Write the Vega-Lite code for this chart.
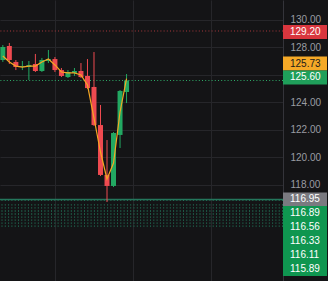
{
  "$schema": "https://vega.github.io/schema/vega-lite/v6.json",
  "width": 283,
  "height": 281,
  "autosize": {"type": "none"},
  "padding": {"left": 0, "top": 0, "right": 45, "bottom": 0},
  "background": "#141416",
  "config": {"view": {"stroke": null}},
  "datasets": {
    "candles": [
      {"i": -1, "open": 127.09, "high": 128.18, "low": 126.95, "close": 128.04},
      {"i": 0, "open": 128.11, "high": 128.33, "low": 126.80, "close": 127.09},
      {"i": 1, "open": 126.95, "high": 127.09, "low": 126.36, "close": 126.58},
      {"i": 2, "open": 126.58, "high": 127.02, "low": 126.36, "close": 126.65},
      {"i": 3, "open": 126.58, "high": 127.02, "low": 125.64, "close": 126.73},
      {"i": 4, "open": 126.80, "high": 127.53, "low": 126.22, "close": 126.29},
      {"i": 5, "open": 126.29, "high": 127.24, "low": 126.22, "close": 127.09},
      {"i": 6, "open": 127.02, "high": 127.82, "low": 126.87, "close": 127.16},
      {"i": 7, "open": 127.16, "high": 127.31, "low": 126.22, "close": 126.36},
      {"i": 8, "open": 126.36, "high": 126.51, "low": 125.85, "close": 125.93},
      {"i": 9, "open": 125.85, "high": 126.36, "low": 125.78, "close": 126.22},
      {"i": 10, "open": 126.15, "high": 126.51, "low": 125.93, "close": 126.29},
      {"i": 11, "open": 126.29, "high": 126.87, "low": 125.78, "close": 125.85},
      {"i": 12, "open": 125.93, "high": 127.16, "low": 124.98, "close": 125.05},
      {"i": 13, "open": 125.13, "high": 127.67, "low": 122.29, "close": 122.36},
      {"i": 14, "open": 122.36, "high": 123.82, "low": 118.65, "close": 118.73},
      {"i": 15, "open": 118.73, "high": 121.27, "low": 116.76, "close": 117.93},
      {"i": 16, "open": 117.93, "high": 121.85, "low": 117.85, "close": 121.78},
      {"i": 17, "open": 121.64, "high": 124.91, "low": 120.69, "close": 124.84},
      {"i": 18, "open": 124.76, "high": 126.07, "low": 123.96, "close": 125.60}
    ],
    "ma": [
      {"i": -1, "ma": 127.38}, {"i": 0, "ma": 126.95}, {"i": 1, "ma": 126.65},
      {"i": 2, "ma": 126.58}, {"i": 3, "ma": 126.65}, {"i": 4, "ma": 126.65},
      {"i": 5, "ma": 126.95}, {"i": 6, "ma": 127.16}, {"i": 7, "ma": 126.73},
      {"i": 8, "ma": 126.22}, {"i": 9, "ma": 126.15}, {"i": 10, "ma": 126.15},
      {"i": 11, "ma": 126.00}, {"i": 12, "ma": 125.27}, {"i": 13, "ma": 122.87},
      {"i": 14, "ma": 120.40}, {"i": 15, "ma": 118.44}, {"i": 16, "ma": 119.60},
      {"i": 17, "ma": 123.31}, {"i": 18, "ma": 125.73}
    ],
    "band": [
      {"price": 116.89}, {"price": 116.56}, {"price": 116.33}, {"price": 116.11},
      {"price": 115.89}, {"price": 115.67}, {"price": 115.45}, {"price": 115.23},
      {"price": 115.01}
    ],
    "tags": [
      {"price": 129.20, "label": "129.20"},
      {"price": 125.73, "label": "125.73"},
      {"price": 125.60, "label": "125.60"},
      {"price": 116.95, "label": "116.95"},
      {"price": 116.89, "label": "116.89"},
      {"price": 116.56, "label": "116.56"},
      {"price": 116.33, "label": "116.33"},
      {"price": 116.11, "label": "116.11"},
      {"price": 115.89, "label": "115.89"}
    ]
  },
  "layer": [
    {
      "data": {"name": "candles"},
      "mark": {"type": "rule", "strokeWidth": 1, "opacity": 0},
      "encoding": {
        "x": {"field": "i", "type": "quantitative",
              "scale": {"domain": [-0.667, 41.26], "nice": false, "zero": false},
              "axis": {"values": [7, 19, 31], "labels": false, "ticks": false, "domain": false, "title": null, "grid": true, "gridColor": "#26262a", "gridWidth": 1}},
        "y": {"field": "low", "type": "quantitative",
              "scale": {"domain": [111.018, 131.4545], "nice": false, "zero": false},
              "axis": {"orient": "right", "values": [118, 120, 122, 124, 126, 128, 130], "format": ".2f", "labelExpr": "datum.value == 126 ? '' : datum.label", "title": null, "grid": true, "gridColor": "#26262a", "ticks": false, "domain": true, "domainColor": "#34343a", "labelColor": "#9a9ca3", "labelFont": "Liberation Sans", "labelFontSize": 10, "labelPadding": 7, "labelBaseline": "middle"}},
        "y2": {"field": "high"}
      }
    },
    {
      "data": {"name": "band"},
      "mark": {"type": "rule", "color": "#217055", "strokeWidth": 1.3, "strokeDash": [1, 2.3]},
      "encoding": {"y": {"field": "price", "type": "quantitative"}}
    },
    {
      "data": {"name": "tags"},
      "transform": [{"filter": "datum.label == '116.95'"}],
      "mark": {"type": "rule", "color": "#24765c", "strokeWidth": 1.6},
      "encoding": {"y": {"field": "price", "type": "quantitative"}}
    },
    {
      "data": {"name": "tags"},
      "transform": [{"filter": "datum.label == '129.20'"}],
      "mark": {"type": "rule", "color": "#a8383c", "strokeWidth": 1, "strokeDash": [1, 2.2]},
      "encoding": {"y": {"field": "price", "type": "quantitative"}}
    },
    {
      "data": {"name": "tags"},
      "transform": [{"filter": "datum.label == '125.60'"}],
      "mark": {"type": "rule", "color": "#2fae6a", "strokeWidth": 1, "strokeDash": [1, 2.2]},
      "encoding": {"y": {"field": "price", "type": "quantitative"}}
    },
    {
      "data": {"name": "candles"},
      "mark": {"type": "rule", "strokeWidth": 1},
      "encoding": {
        "x": {"field": "i", "type": "quantitative"},
        "y": {"field": "low", "type": "quantitative"},
        "y2": {"field": "high"},
        "color": {"condition": {"test": "datum.close < datum.open", "value": "#ef4a50"}, "value": "#22a862"}
      }
    },
    {
      "data": {"name": "candles"},
      "mark": {"type": "bar", "size": 5},
      "encoding": {
        "x": {"field": "i", "type": "quantitative"},
        "y": {"field": "open", "type": "quantitative"},
        "y2": {"field": "close"},
        "color": {"condition": {"test": "datum.close < datum.open", "value": "#ef4a50"}, "value": "#22a862"}
      }
    },
    {
      "data": {"name": "ma"},
      "mark": {"type": "line", "color": "#f5a623", "strokeWidth": 1.2},
      "encoding": {
        "x": {"field": "i", "type": "quantitative"},
        "y": {"field": "ma", "type": "quantitative"}
      }
    },
    {
      "data": {"name": "tags"},
      "transform": [{"filter": "datum.label == '129.20'"}],
      "layer": [
        {"mark": {"type": "rect", "color": "#d9363e", "yOffset": -6, "y2Offset": 8, "x2Offset": 44},
         "encoding": {"x": {"value": "width"}, "x2": {"value": "width"}, "y": {"field": "price", "type": "quantitative"}, "y2": {"field": "price"}}},
        {"mark": {"type": "text", "align": "left", "baseline": "middle", "dx": 7, "yOffset": 1, "color": "#ffffff", "font": "Liberation Sans", "fontSize": 10},
         "encoding": {"x": {"value": "width"}, "y": {"field": "price", "type": "quantitative"}, "text": {"field": "label"}}}
      ]
    },
    {
      "data": {"name": "tags"},
      "transform": [{"filter": "datum.label == '125.73'"}],
      "layer": [
        {"mark": {"type": "rect", "color": "#f5a927", "yOffset": -22.2, "y2Offset": -8.2, "x2Offset": 44},
         "encoding": {"x": {"value": "width"}, "x2": {"value": "width"}, "y": {"field": "price", "type": "quantitative"}, "y2": {"field": "price"}}},
        {"mark": {"type": "text", "align": "left", "baseline": "middle", "dx": 7, "yOffset": -15.2, "color": "#1a1a1a", "font": "Liberation Sans", "fontSize": 10},
         "encoding": {"x": {"value": "width"}, "y": {"field": "price", "type": "quantitative"}, "text": {"field": "label"}}}
      ]
    },
    {
      "data": {"name": "tags"},
      "transform": [{"filter": "datum.label == '125.60'"}],
      "layer": [
        {"mark": {"type": "rect", "color": "#1f9f5a", "yOffset": -10, "y2Offset": 4, "x2Offset": 44},
         "encoding": {"x": {"value": "width"}, "x2": {"value": "width"}, "y": {"field": "price", "type": "quantitative"}, "y2": {"field": "price"}}},
        {"mark": {"type": "text", "align": "left", "baseline": "middle", "dx": 7, "yOffset": -3, "color": "#ffffff", "font": "Liberation Sans", "fontSize": 10},
         "encoding": {"x": {"value": "width"}, "y": {"field": "price", "type": "quantitative"}, "text": {"field": "label"}}}
      ]
    },
    {
      "data": {"name": "tags"},
      "transform": [{"filter": "datum.label == '116.95'"}],
      "layer": [
        {"mark": {"type": "rect", "color": "#7a7a80", "yOffset": -7, "y2Offset": 7, "x2Offset": 44},
         "encoding": {"x": {"value": "width"}, "x2": {"value": "width"}, "y": {"field": "price", "type": "quantitative"}, "y2": {"field": "price"}}},
        {"mark": {"type": "text", "align": "left", "baseline": "middle", "dx": 7, "yOffset": 0, "color": "#ffffff", "font": "Liberation Sans", "fontSize": 10},
         "encoding": {"x": {"value": "width"}, "y": {"field": "price", "type": "quantitative"}, "text": {"field": "label"}}}
      ]
    },
    {
      "data": {"name": "tags"},
      "transform": [{"filter": "datum.label == '116.89'"}],
      "layer": [
        {"mark": {"type": "rect", "color": "#0f9650", "yOffset": 5.7, "y2Offset": 19.7, "x2Offset": 44},
         "encoding": {"x": {"value": "width"}, "x2": {"value": "width"}, "y": {"field": "price", "type": "quantitative"}, "y2": {"field": "price"}}},
        {"mark": {"type": "text", "align": "left", "baseline": "middle", "dx": 7, "yOffset": 12.7, "color": "#ffffff", "font": "Liberation Sans", "fontSize": 10},
         "encoding": {"x": {"value": "width"}, "y": {"field": "price", "type": "quantitative"}, "text": {"field": "label"}}}
      ]
    },
    {
      "data": {"name": "tags"},
      "transform": [{"filter": "datum.label == '116.56'"}],
      "layer": [
        {"mark": {"type": "rect", "color": "#0f9650", "yOffset": 15.2, "y2Offset": 29.2, "x2Offset": 44},
         "encoding": {"x": {"value": "width"}, "x2": {"value": "width"}, "y": {"field": "price", "type": "quantitative"}, "y2": {"field": "price"}}},
        {"mark": {"type": "text", "align": "left", "baseline": "middle", "dx": 7, "yOffset": 22.2, "color": "#ffffff", "font": "Liberation Sans", "fontSize": 10},
         "encoding": {"x": {"value": "width"}, "y": {"field": "price", "type": "quantitative"}, "text": {"field": "label"}}}
      ]
    },
    {
      "data": {"name": "tags"},
      "transform": [{"filter": "datum.label == '116.33'"}],
      "layer": [
        {"mark": {"type": "rect", "color": "#0f9650", "yOffset": 26, "y2Offset": 40, "x2Offset": 44},
         "encoding": {"x": {"value": "width"}, "x2": {"value": "width"}, "y": {"field": "price", "type": "quantitative"}, "y2": {"field": "price"}}},
        {"mark": {"type": "text", "align": "left", "baseline": "middle", "dx": 7, "yOffset": 33, "color": "#ffffff", "font": "Liberation Sans", "fontSize": 10},
         "encoding": {"x": {"value": "width"}, "y": {"field": "price", "type": "quantitative"}, "text": {"field": "label"}}}
      ]
    },
    {
      "data": {"name": "tags"},
      "transform": [{"filter": "datum.label == '116.11'"}],
      "layer": [
        {"mark": {"type": "rect", "color": "#0f9650", "yOffset": 37, "y2Offset": 51, "x2Offset": 44},
         "encoding": {"x": {"value": "width"}, "x2": {"value": "width"}, "y": {"field": "price", "type": "quantitative"}, "y2": {"field": "price"}}},
        {"mark": {"type": "text", "align": "left", "baseline": "middle", "dx": 7, "yOffset": 44, "color": "#ffffff", "font": "Liberation Sans", "fontSize": 10},
         "encoding": {"x": {"value": "width"}, "y": {"field": "price", "type": "quantitative"}, "text": {"field": "label"}}}
      ]
    },
    {
      "data": {"name": "tags"},
      "transform": [{"filter": "datum.label == '115.89'"}],
      "layer": [
        {"mark": {"type": "rect", "color": "#0f9650", "yOffset": 48, "y2Offset": 62, "x2Offset": 44},
         "encoding": {"x": {"value": "width"}, "x2": {"value": "width"}, "y": {"field": "price", "type": "quantitative"}, "y2": {"field": "price"}}},
        {"mark": {"type": "text", "align": "left", "baseline": "middle", "dx": 7, "yOffset": 55, "color": "#ffffff", "font": "Liberation Sans", "fontSize": 10},
         "encoding": {"x": {"value": "width"}, "y": {"field": "price", "type": "quantitative"}, "text": {"field": "label"}}}
      ]
    }
  ]
}
